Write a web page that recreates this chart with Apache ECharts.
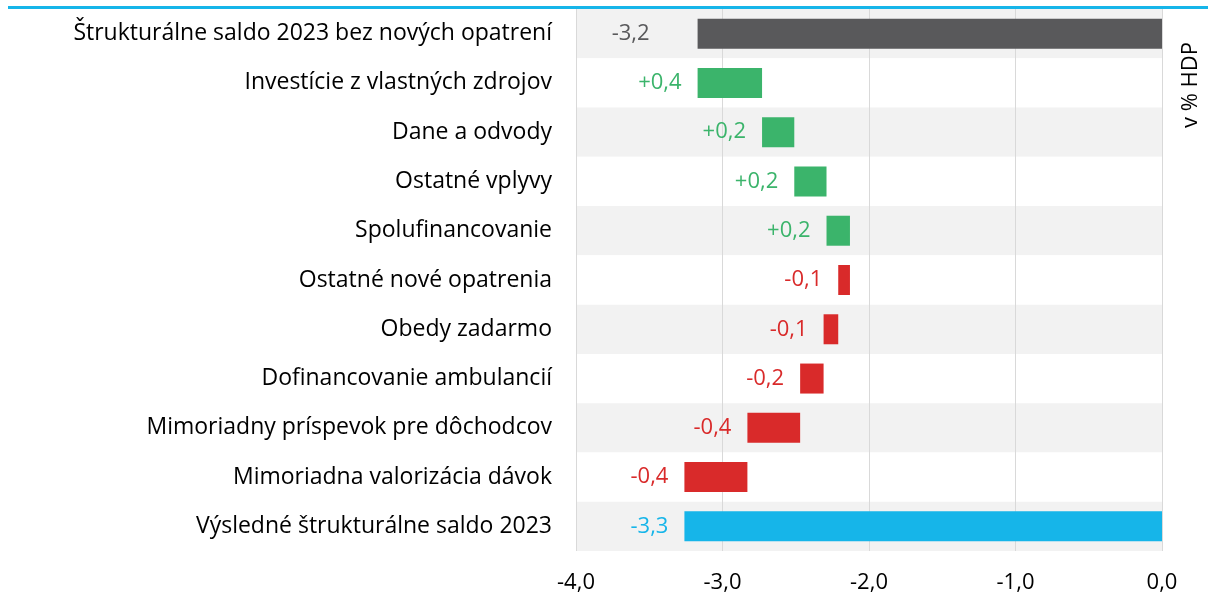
<!DOCTYPE html>
<html>
<head>
<meta charset="utf-8">
<script src="https://cdn.jsdelivr.net/npm/echarts@6/dist/echarts.min.js"></script>
<style>
  html, body { margin: 0; padding: 0; background: #fff; }
  #chart { width: 1208px; height: 613px; }
</style>
</head>
<body>
<div id="chart"></div>
<script>
// Structural balance 2023 (% of GDP): starting level, individual effects, result
const categories = [
  'Štrukturálne saldo 2023 bez nových opatrení',
  'Investície z vlastných zdrojov',
  'Dane a odvody',
  'Ostatné vplyvy',
  'Spolufinancovanie',
  'Ostatné nové opatrenia',
  'Obedy zadarmo',
  'Dofinancovanie ambulancií',
  'Mimoriadny príspevok pre dôchodcov',
  'Mimoriadna valorizácia dávok',
  'Výsledné štrukturálne saldo 2023'
];
const startBalance = -3.17;
const effects = [0.44, 0.22, 0.22, 0.16, -0.08, -0.10, -0.16, -0.36, -0.43];
const finalBalance = -3.26;
const xTicks = { min: -4, max: 0, step: 1 };
const axisUnit = 'v % HDP';

const FONT = 'Open Sans';
const COLORS = { start: '#59595b', up: '#3bb46b', down: '#d92a2a', result: '#16b5e9' };

// Build waterfall segments: invisible base (end nearer zero) + visible negative-length bar
const base = [];
const length = [];
const kinds = [];
const shown = [];
base.push(0); length.push(startBalance); kinds.push('start'); shown.push(startBalance);
let level = startBalance;
effects.forEach(d => {
  const next = level + d;
  const hi = Math.max(level, next);
  const lo = Math.min(level, next);
  base.push(hi);
  length.push(lo - hi);
  kinds.push(d >= 0 ? 'up' : 'down');
  shown.push(d);
  level = next;
});
base.push(0); length.push(finalBalance); kinds.push('result'); shown.push(finalBalance);

const fmt = (v, signed) => {
  const s = Math.abs(v).toFixed(1).replace('.', ',');
  if (v < 0) return '-' + s;
  return signed ? '+' + s : s;
};

const chart = echarts.init(document.getElementById('chart'));
chart.setOption({
  animation: false,
  backgroundColor: '#ffffff',
  grid: { left: 576, right: 46, top: 9, bottom: 62, containLabel: false },
  xAxis: {
    type: 'value',
    min: xTicks.min, max: xTicks.max, interval: xTicks.step,
    axisLine: { show: false },
    axisTick: { show: false },
    splitLine: { show: true, lineStyle: { color: '#d9d9d9', width: 1 } },
    axisLabel: {
      margin: 21,
      color: '#000', fontSize: 22, fontFamily: FONT,
      formatter: v => fmt(v, false)
    }
  },
  yAxis: {
    type: 'category',
    data: categories,
    inverse: true,
    axisLine: { show: false },
    axisTick: { show: false },
    splitArea: { show: true, areaStyle: { color: ['#f2f2f2', '#ffffff'] } },
    axisLabel: { margin: 24, color: '#000', fontSize: 23, fontFamily: FONT }
  },
  series: [
    {
      type: 'bar', stack: 'w', barWidth: 30, silent: true,
      itemStyle: { color: 'transparent' },
      data: base
    },
    {
      type: 'bar', stack: 'w', barWidth: 30,
      data: length.map((v, i) => ({
        value: v,
        itemStyle: { color: COLORS[kinds[i]] },
        label: {
          show: true, position: 'left',
          distance: kinds[i] === 'start' ? 48 : 16,
          fontSize: 22, fontFamily: FONT,
          color: COLORS[kinds[i]],
          formatter: () => fmt(shown[i], kinds[i] === 'up' || kinds[i] === 'down')
        }
      }))
    }
  ],
  graphic: [
    { type: 'rect', left: 8, top: 6, shape: { width: 1200, height: 3 }, style: { fill: '#16b5e9' } },
    {
      type: 'text', x: 1191, y: 85, rotation: Math.PI / 2,
      style: { text: axisUnit, fill: '#000', font: '22px "Open Sans"', textAlign: 'center', textVerticalAlign: 'middle' }
    }
  ]
});
</script>
</body>
</html>
